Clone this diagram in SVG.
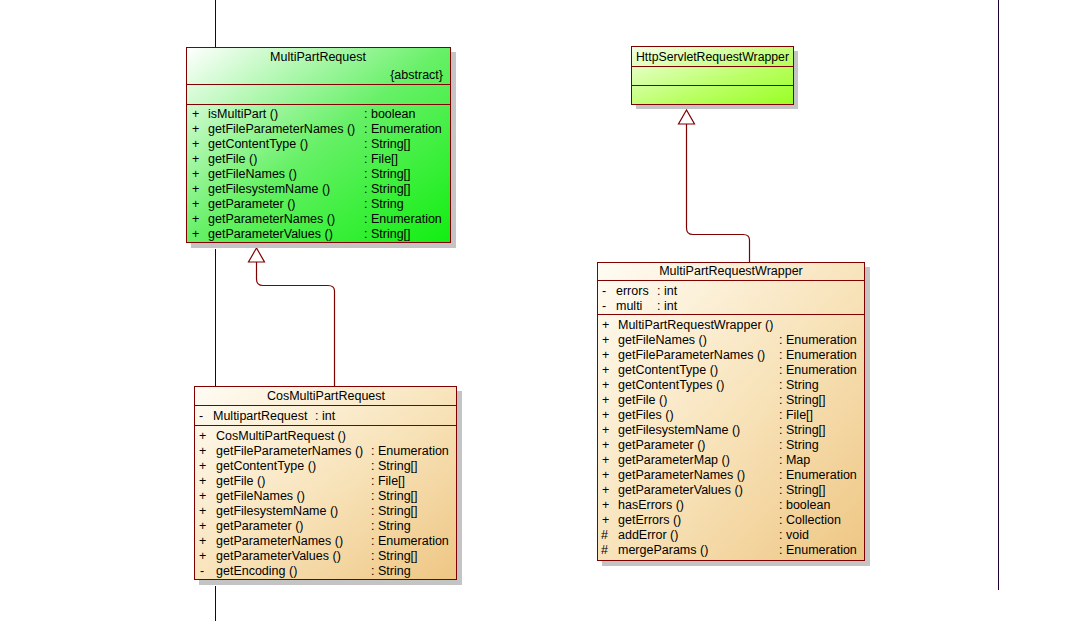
<svg xmlns="http://www.w3.org/2000/svg" width="1065" height="621" viewBox="0 0 1065 621">
<defs>
<linearGradient id="gGreen" x1="0" y1="0" x2="1" y2="1"><stop offset="0" stop-color="#ffffff"/><stop offset="0.5" stop-color="#66f066"/><stop offset="1" stop-color="#11ee11"/></linearGradient>
<linearGradient id="gLime" x1="0" y1="0" x2="1" y2="1"><stop offset="0" stop-color="#f4ffe8"/><stop offset="0.6" stop-color="#bbff66"/><stop offset="1" stop-color="#99ff22"/></linearGradient>
<linearGradient id="gTan" x1="0" y1="0" x2="1" y2="1"><stop offset="0" stop-color="#fffcf4"/><stop offset="0.5" stop-color="#f8e4bc"/><stop offset="1" stop-color="#eec683"/></linearGradient>
</defs>
<style>
text{font-family:"Liberation Sans",Arial,sans-serif;font-size:12.5px;fill:#000}
.box{stroke:#800000;stroke-width:1}
.div{stroke:#800000;stroke-width:1}
.sh{fill:#c4c4c4}
.life{stroke:#1a0033;stroke-width:1}
.conn{fill:none;stroke:#800000;stroke-width:1.2}
.tri{fill:#ffffff;stroke:#800000;stroke-width:1.2}
.mid{text-anchor:middle}
.end{text-anchor:end}
</style>
<rect width="1065" height="621" fill="#ffffff"/>
<g id="lifelines">
<line class="life" x1="215.5" y1="0" x2="215.5" y2="47"/>
<line class="life" x1="215.5" y1="249" x2="215.5" y2="386"/>
<line class="life" x1="215.5" y1="586" x2="215.5" y2="621"/>
<line class="life" x1="998.5" y1="0" x2="998.5" y2="590"/>
</g>
<g id="connectors">
<path class="conn" d="M334.5,386 V291 Q334.5,285.5 328,285.5 H263 Q256.5,285.5 256.5,279 V262"/>
<polygon class="tri" points="256.5,248 248.5,262 264.5,262"/>
<path class="conn" d="M749.5,262 V240 Q749.5,234.5 743,234.5 H693 Q686.5,234.5 686.5,228 V124"/>
<polygon class="tri" points="686.5,110 678.5,124 694.5,124"/>
</g>
<g id="MultiPartRequest">
<rect class="sh" x="191" y="52" width="265" height="196"/>
<rect class="box" x="186.5" y="47.5" width="264" height="195" fill="url(#gGreen)"/>
<line class="div" x1="186.5" y1="84.5" x2="450.5" y2="84.5"/>
<line class="div" x1="186.5" y1="104.5" x2="450.5" y2="104.5"/>
<text class="mid" x="318" y="61">MultiPartRequest</text>
<text class="end" x="443" y="79">{abstract}</text>
<g>
<text x="192" y="118">+</text><text x="208" y="118">isMultiPart ()</text><text x="364" y="118">: boolean</text>
<text x="192" y="133">+</text><text x="208" y="133">getFileParameterNames ()</text><text x="364" y="133">: Enumeration</text>
<text x="192" y="148">+</text><text x="208" y="148">getContentType ()</text><text x="364" y="148">: String[]</text>
<text x="192" y="163">+</text><text x="208" y="163">getFile ()</text><text x="364" y="163">: File[]</text>
<text x="192" y="178">+</text><text x="208" y="178">getFileNames ()</text><text x="364" y="178">: String[]</text>
<text x="192" y="193">+</text><text x="208" y="193">getFilesystemName ()</text><text x="364" y="193">: String[]</text>
<text x="192" y="208">+</text><text x="208" y="208">getParameter ()</text><text x="364" y="208">: String</text>
<text x="192" y="223">+</text><text x="208" y="223">getParameterNames ()</text><text x="364" y="223">: Enumeration</text>
<text x="192" y="238">+</text><text x="208" y="238">getParameterValues ()</text><text x="364" y="238">: String[]</text>
</g>
</g>
<g id="HttpServletRequestWrapper">
<rect class="sh" x="636" y="51" width="162" height="58"/>
<rect class="box" x="631.5" y="46.5" width="162" height="58" fill="url(#gLime)"/>
<line class="div" x1="631.5" y1="66.5" x2="793.5" y2="66.5"/>
<line class="div" x1="631.5" y1="85.5" x2="793.5" y2="85.5"/>
<text x="636" y="61" textLength="153" lengthAdjust="spacingAndGlyphs">HttpServletRequestWrapper</text>
</g>
<g id="MultiPartRequestWrapper">
<rect class="sh" x="602" y="267" width="268" height="299"/>
<rect class="box" x="597.5" y="262.5" width="267" height="298" fill="url(#gTan)"/>
<line class="div" x1="597.5" y1="280.5" x2="864.5" y2="280.5"/>
<line class="div" x1="597.5" y1="314.5" x2="864.5" y2="314.5"/>
<text class="mid" x="731" y="275">MultiPartRequestWrapper</text>
<text x="602" y="295">-</text><text x="616" y="295">errors</text><text x="657" y="295">: int</text>
<text x="602" y="310">-</text><text x="616" y="310">multi</text><text x="657" y="310">: int</text>
<g>
<text x="602" y="329">+</text><text x="618" y="329">MultiPartRequestWrapper ()</text>
<text x="602" y="344">+</text><text x="618" y="344">getFileNames ()</text><text x="779" y="344">: Enumeration</text>
<text x="602" y="359">+</text><text x="618" y="359">getFileParameterNames ()</text><text x="779" y="359">: Enumeration</text>
<text x="602" y="374">+</text><text x="618" y="374">getContentType ()</text><text x="779" y="374">: Enumeration</text>
<text x="602" y="389">+</text><text x="618" y="389">getContentTypes ()</text><text x="779" y="389">: String</text>
<text x="602" y="404">+</text><text x="618" y="404">getFile ()</text><text x="779" y="404">: String[]</text>
<text x="602" y="419">+</text><text x="618" y="419">getFiles ()</text><text x="779" y="419">: File[]</text>
<text x="602" y="434">+</text><text x="618" y="434">getFilesystemName ()</text><text x="779" y="434">: String[]</text>
<text x="602" y="449">+</text><text x="618" y="449">getParameter ()</text><text x="779" y="449">: String</text>
<text x="602" y="464">+</text><text x="618" y="464">getParameterMap ()</text><text x="779" y="464">: Map</text>
<text x="602" y="479">+</text><text x="618" y="479">getParameterNames ()</text><text x="779" y="479">: Enumeration</text>
<text x="602" y="494">+</text><text x="618" y="494">getParameterValues ()</text><text x="779" y="494">: String[]</text>
<text x="602" y="509">+</text><text x="618" y="509">hasErrors ()</text><text x="779" y="509">: boolean</text>
<text x="602" y="524">+</text><text x="618" y="524">getErrors ()</text><text x="779" y="524">: Collection</text>
<text x="601" y="539">#</text><text x="618" y="539">addError ()</text><text x="779" y="539">: void</text>
<text x="601" y="554">#</text><text x="618" y="554">mergeParams ()</text><text x="779" y="554">: Enumeration</text>
</g>
</g>
<g id="CosMultiPartRequest">
<rect class="sh" x="199" y="391" width="263" height="194"/>
<rect class="box" x="194.5" y="386.5" width="262" height="193" fill="url(#gTan)"/>
<line class="div" x1="194.5" y1="405.5" x2="456.5" y2="405.5"/>
<line class="div" x1="194.5" y1="425.5" x2="456.5" y2="425.5"/>
<text class="mid" x="326" y="400">CosMultiPartRequest</text>
<text x="199" y="420">-</text><text x="213" y="420">MultipartRequest</text><text x="315" y="420">: int</text>
<g>
<text x="199" y="440">+</text><text x="216" y="440">CosMultiPartRequest ()</text>
<text x="199" y="455">+</text><text x="216" y="455">getFileParameterNames ()</text><text x="371" y="455">: Enumeration</text>
<text x="199" y="470">+</text><text x="216" y="470">getContentType ()</text><text x="371" y="470">: String[]</text>
<text x="199" y="485">+</text><text x="216" y="485">getFile ()</text><text x="371" y="485">: File[]</text>
<text x="199" y="500">+</text><text x="216" y="500">getFileNames ()</text><text x="371" y="500">: String[]</text>
<text x="199" y="515">+</text><text x="216" y="515">getFilesystemName ()</text><text x="371" y="515">: String[]</text>
<text x="199" y="530">+</text><text x="216" y="530">getParameter ()</text><text x="371" y="530">: String</text>
<text x="199" y="545">+</text><text x="216" y="545">getParameterNames ()</text><text x="371" y="545">: Enumeration</text>
<text x="199" y="560">+</text><text x="216" y="560">getParameterValues ()</text><text x="371" y="560">: String[]</text>
<text x="200" y="575">-</text><text x="216" y="575">getEncoding ()</text><text x="371" y="575">: String</text>
</g>
</g>
</svg>
